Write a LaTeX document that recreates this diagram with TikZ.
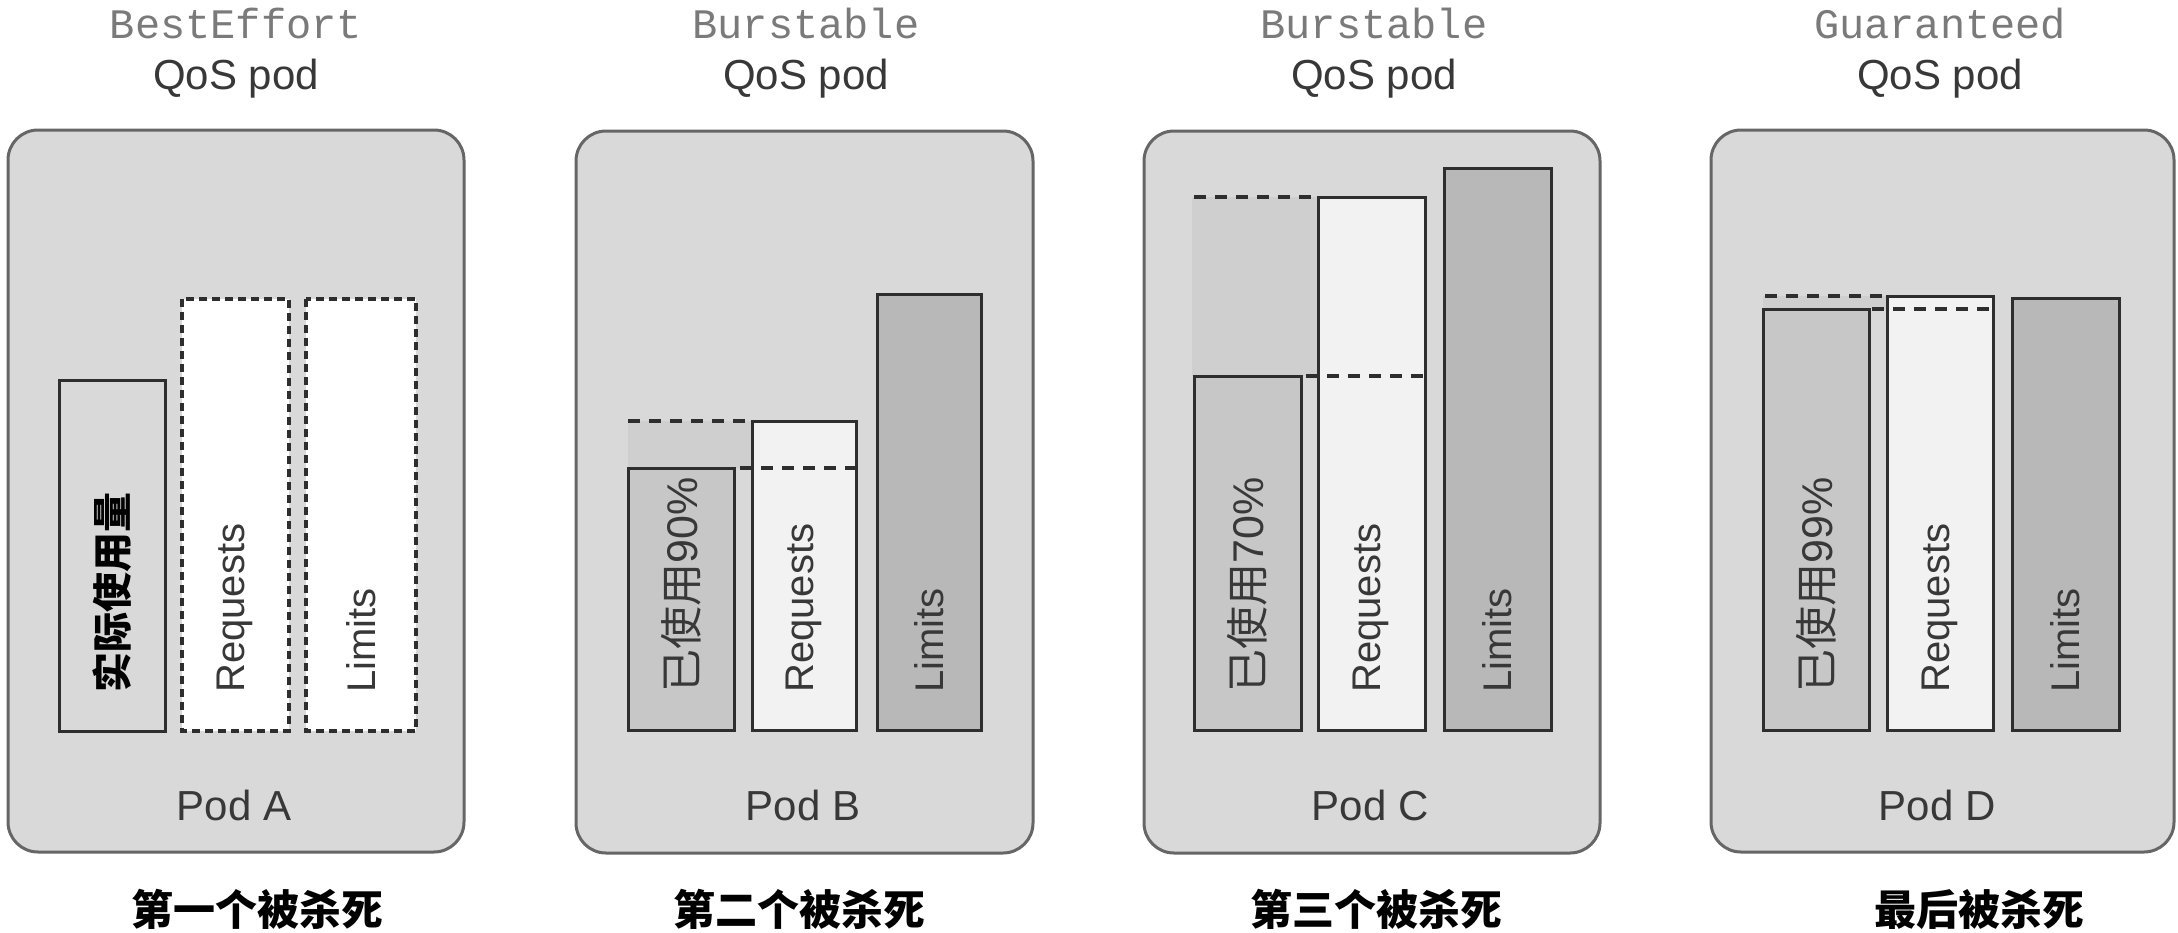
\documentclass[tikz,border=0pt]{standalone}
\usepackage{fontspec}
\setmainfont{Liberation Sans}
\newfontfamily\monofont{Liberation Mono}
\newfontfamily\cjk{Noto Sans CJK SC}
\definecolor{panelfill}{gray}{0.85}
\definecolor{panelborder}{gray}{0.40}
\definecolor{usedfill}{gray}{0.78}
\definecolor{shadefill}{gray}{0.81}
\definecolor{reqfill}{gray}{0.95}
\definecolor{limfill}{gray}{0.72}
\definecolor{barline}{gray}{0.18}
\definecolor{titlegray}{gray}{0.48}
\definecolor{textdark}{gray}{0.22}
\begin{document}
\begin{tikzpicture}[x=0.5pt,y=-0.5pt,
  panel/.style={draw=panelborder,line width=1.5pt,fill=panelfill,rounded corners=15pt},
  usedbar/.style={draw=barline,line width=1.5pt,fill=usedfill},
  emptybar/.style={draw=barline,line width=1.5pt,fill=panelfill},
  reqbar/.style={draw=barline,line width=1.5pt,fill=reqfill},
  limbar/.style={draw=barline,line width=1.5pt,fill=limfill},
  dotbar/.style={draw=barline,line width=1.9pt,fill=white,dash pattern=on 4pt off 2.5pt},
  shade/.style={fill=shadefill,draw=none},
  dashln/.style={draw=barline,line width=1.6pt,dash pattern=on 6pt off 4.5pt},
  vlabel/.style={rotate=90,anchor=west,inner sep=0pt,text=textdark,font=\fontsize{20}{24}\selectfont},
  ulabel/.style={vlabel,font=\fontsize{21.5}{25}\selectfont},
  titlelbl/.style={inner sep=0pt,anchor=base,text=titlegray,font=\monofont\fontsize{21}{25}\selectfont},
  qoslbl/.style={inner sep=0pt,anchor=base,text=textdark,font=\fontsize{21}{25}\selectfont},
  podlbl/.style={inner sep=0pt,anchor=base,text=textdark,font=\fontsize{21}{25}\selectfont},
  killlbl/.style={inner sep=0pt,text=black,font=\cjk\bfseries\fontsize{21}{25}\selectfont}]
\useasboundingbox[fill=white] (0,0) rectangle (2178,932);

% ---------- Pod A ----------
\draw[panel] (8,130) rectangle (464,852);
\draw[emptybar] (59,380) rectangle (165,731);
\draw[dotbar] (182,299) rectangle (289,731);
\draw[dotbar] (306,299) rectangle (416,731);
\node[vlabel,text=black,font=\cjk\bfseries\fontsize{20}{24}\selectfont] (a1) at (112,693) {实际使用量};
\node[vlabel] (a2) at (235,693) {Requests};
\node[vlabel] (a3) at (361,693) {Limits};
\node[titlelbl] (ta) at (236,38) {BestEffort};
\node[qoslbl] (qa) at (236,89) {QoS pod};
\node[podlbl] (pa) at (234,820) {Pod A};
\node[killlbl] (ka) at (257,909) {第一个被杀死};

% ---------- Pod B ----------
\draw[panel] (576,131) rectangle (1033,853);
\fill[shade] (628,421) rectangle (752,468);
\draw[usedbar] (628,468) rectangle (734,730);
\draw[reqbar] (752,421) rectangle (856,730);
\draw[limbar] (877,294) rectangle (981,730);
\draw[dashln] (628,421) -- (752,421);
\draw[dashln] (740,468) -- (856,468);
\node[ulabel] (b1) at (681,693) {{\cjk 已使用}90\%};
\node[vlabel] (b2) at (804,693) {Requests};
\node[vlabel] (b3) at (929,693) {Limits};
\node[titlelbl] (tb) at (806,38) {Burstable};
\node[qoslbl] (qb) at (806,89) {QoS pod};
\node[podlbl] (pb) at (803,820) {Pod B};
\node[killlbl] (kb) at (799,909) {第二个被杀死};

% ---------- Pod C ----------
\draw[panel] (1144,131) rectangle (1600,853);
\fill[shade] (1192,197) rectangle (1318,376);
\draw[usedbar] (1194,376) rectangle (1301,730);
\draw[reqbar] (1318,197) rectangle (1425,730);
\draw[limbar] (1444,168) rectangle (1551,730);
\draw[dashln] (1194,197) -- (1318,197);
\draw[dashln] (1306,376) -- (1425,376);
\node[ulabel] (c1) at (1247,693) {{\cjk 已使用}70\%};
\node[vlabel] (c2) at (1371,693) {Requests};
\node[vlabel] (c3) at (1497,693) {Limits};
\node[titlelbl] (tc) at (1374,38) {Burstable};
\node[qoslbl] (qc) at (1374,89) {QoS pod};
\node[podlbl] (pc) at (1370,820) {Pod C};
\node[killlbl] (kc) at (1376,909) {第三个被杀死};

% ---------- Pod D ----------
\draw[panel] (1711,130) rectangle (2174,852);
\fill[shade] (1763,296) rectangle (1887,309);
\draw[usedbar] (1763,309) rectangle (1869,730);
\draw[reqbar] (1887,296) rectangle (1993,730);
\draw[limbar] (2012,298) rectangle (2119,730);
\draw[dashln] (1765,296) -- (1887,296);
\draw[dashln] (1872,309) -- (1993,309);
\node[ulabel] (d1) at (1816,693) {{\cjk 已使用}99\%};
\node[vlabel] (d2) at (1940,693) {Requests};
\node[vlabel] (d3) at (2065,693) {Limits};
\node[titlelbl] (td) at (1940,38) {Guaranteed};
\node[qoslbl] (qd) at (1940,89) {QoS pod};
\node[podlbl] (pd) at (1937,820) {Pod D};
\node[killlbl] (kd) at (1979,909) {最后被杀死};
\end{tikzpicture}
\end{document}
